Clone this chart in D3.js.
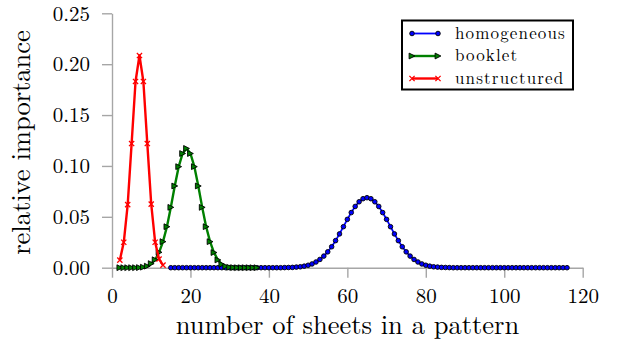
<!DOCTYPE html>
<html>
<head>
<meta charset="utf-8">
<script src="https://cdn.jsdelivr.net/npm/d3@7"></script>
<style>
  html, body { margin: 0; padding: 0; background: #fff; }
  svg { display: block; }
</style>
</head>
<body>
<div id="chart"></div>
<script>
// x ticks and y ticks
const xTicks = [0, 20, 40, 60, 80, 100, 120];
const yTicks = [0, 0.05, 0.10, 0.15, 0.20, 0.25];

// homogeneous: sheets 15..116
const homogeneousStart = 15;
const homogeneousValues = [
  0, 0, 0, 0, 0, 0, 0, 0, 0, 0,            // 15-24
  0, 0, 0, 0, 0, 0, 0, 0, 0, 0,            // 25-34
  0, 0, 0, 0, 0, 0, 0, 0, 0, 0.0001,       // 35-44
  0.0002, 0.0003, 0.0006, 0.0009, 0.0015, 0.0024, 0.0037, 0.0056, 0.0081, 0.0114, // 45-54
  0.0156, 0.0206, 0.0266, 0.0332, 0.0403, 0.0475, 0.0542, 0.0602, 0.0648, 0.0678, // 55-64
  0.0688, 0.0678, 0.0648, 0.0602, 0.0542, 0.0475, 0.0403, 0.0332, 0.0266, 0.0206, // 65-74
  0.0156, 0.0114, 0.0081, 0.0056, 0.0037, 0.0024, 0.0015, 0.0009, 0.0006, 0.0003, // 75-84
  0.0002, 0.0001, 0, 0, 0, 0, 0, 0, 0, 0,  // 85-94
  0, 0, 0, 0, 0, 0, 0, 0, 0, 0,            // 95-104
  0, 0, 0, 0, 0, 0, 0, 0, 0, 0,            // 105-114
  0, 0                                     // 115-116
];

// booklet: sheets 2..37
const bookletStart = 2;
const bookletValues = [
  0, 0, 0, 0, 0, 0.0001,                   // 2-7
  0.0005, 0.0015, 0.0040, 0.0078, 0.0151, 0.0256, 0.0403, 0.0593, 0.0803, 0.0993, // 8-17
  0.1122, 0.1172, 0.1122, 0.0993, 0.0803, 0.0593, 0.0403, 0.0256, 0.0149, 0.0076, // 18-27
  0.0033, 0.0013, 0.0004, 0.0001, 0, 0, 0, 0, 0, 0  // 28-37
];

// unstructured: sheets 2..13
const unstructuredStart = 2;
const unstructuredValues = [
  0.0074, 0.0250, 0.0620, 0.1220, 0.1830, 0.2085,
  0.1830, 0.1220, 0.0625, 0.0250, 0.0085, 0.0025
];

const seriesNames = ['homogeneous', 'booklet', 'unstructured'];

const W = 618, H = 345;
const FONT = '"Latin Modern Roman", "Liberation Serif", serif';

const svg = d3.select('#chart').append('svg')
  .attr('width', W)
  .attr('height', H)
  .style('font-family', FONT);

const x = d3.scaleLinear().domain([0, 120]).range([112, 582.7]);
const y = d3.scaleLinear().domain([0, 0.25]).range([267.7, 13.3]);

const axisColor = '#a6a6a6';

// axes
const xAxis = d3.axisBottom(x).tickValues(xTicks).tickSize(10)
  .tickFormat(d3.format('d'));
const yAxis = d3.axisLeft(y).tickValues(yTicks).tickSize(10).tickPadding(12)
  .tickFormat(d3.format('.2f'));

function styleAxis(g) {
  g.select('.domain').attr('stroke', axisColor).attr('stroke-width', 1.4);
  g.selectAll('.tick line').attr('stroke', axisColor).attr('stroke-width', 1.4);
  g.selectAll('.tick text')
    .attr('fill', '#000')
    .style('font-family', FONT)
    .style('font-size', '21px');
}

svg.append('g')
  .attr('transform', `translate(0,${y(0)})`)
  .call(xAxis.tickSizeOuter(0))
  .call(styleAxis)
  .call(g => g.selectAll('.tick text').attr('y', 35).attr('dy', 0));

svg.append('g')
  .attr('transform', `translate(${x(0)},0)`)
  .call(yAxis.tickSizeOuter(0))
  .call(styleAxis);

// axis titles
svg.append('text')
  .attr('x', 347.5)
  .attr('y', 334)
  .attr('text-anchor', 'middle')
  .attr('fill', '#000')
  .style('font-size', '26.5px')
  .text('number of sheets in a pattern');

svg.append('text')
  .attr('transform', 'translate(30,142.5) rotate(-90)')
  .attr('text-anchor', 'middle')
  .attr('fill', '#000')
  .style('font-size', '26.5px')
  .text('relative importance');

// build point lists
function toPoints(start, values) {
  return values.map((v, i) => ({ x: start + i, y: v }));
}

const series = [
  { name: seriesNames[0], pts: toPoints(homogeneousStart, homogeneousValues),
    color: '#0000ff', width: 1.8, marker: 'circle' },
  { name: seriesNames[1], pts: toPoints(bookletStart, bookletValues),
    color: '#008000', width: 2.4, marker: 'triangle' },
  { name: seriesNames[2], pts: toPoints(unstructuredStart, unstructuredValues),
    color: '#ff0000', width: 2.4, marker: 'cross' }
];

const line = d3.line().x(d => x(d.x)).y(d => y(d.y));

function drawMarker(g, kind, color, px, py) {
  if (kind === 'circle') {
    g.append('circle')
      .attr('cx', px).attr('cy', py).attr('r', 2.3)
      .attr('fill', color).attr('stroke', '#000').attr('stroke-width', 0.9);
  } else if (kind === 'triangle') {
    const s = 2.9;
    g.append('path')
      .attr('d', `M${px + s},${py} L${px - s},${py - s} L${px - s},${py + s} Z`)
      .attr('fill', color).attr('stroke', '#000').attr('stroke-width', 0.9);
  } else {
    const s = 2.6;
    g.append('path')
      .attr('d', `M${px - s},${py - s} L${px + s},${py + s} M${px - s},${py + s} L${px + s},${py - s}`)
      .attr('stroke', color).attr('stroke-width', 1.3).attr('fill', 'none');
  }
}

const plot = svg.append('g');
series.forEach(s => {
  const g = plot.append('g');
  g.append('path')
    .datum(s.pts)
    .attr('d', line)
    .attr('fill', 'none')
    .attr('stroke', s.color)
    .attr('stroke-width', s.width)
    .attr('stroke-linejoin', 'round');
  s.pts.forEach(p => drawMarker(g, s.marker, s.color, x(p.x), y(p.y)));
});

// legend
const legend = svg.append('g');
legend.append('rect')
  .attr('x', 402).attr('y', 20.5)
  .attr('width', 171).attr('height', 69)
  .attr('fill', '#fff')
  .attr('stroke', '#000')
  .attr('stroke-width', 2);

series.forEach((s, i) => {
  const ly = 33.5 + i * 22.5;
  legend.append('line')
    .attr('x1', 412).attr('x2', 438)
    .attr('y1', ly).attr('y2', ly)
    .attr('stroke', s.color).attr('stroke-width', s.width);
  drawMarker(legend, s.marker, s.color, 412, ly);
  drawMarker(legend, s.marker, s.color, 438, ly);
  legend.append('text')
    .attr('x', 455).attr('y', ly + 5)
    .attr('fill', '#000')
    .style('font-size', '17px')
    .style('letter-spacing', '1.15px')
    .text(s.name);
});
</script>
</body>
</html>
